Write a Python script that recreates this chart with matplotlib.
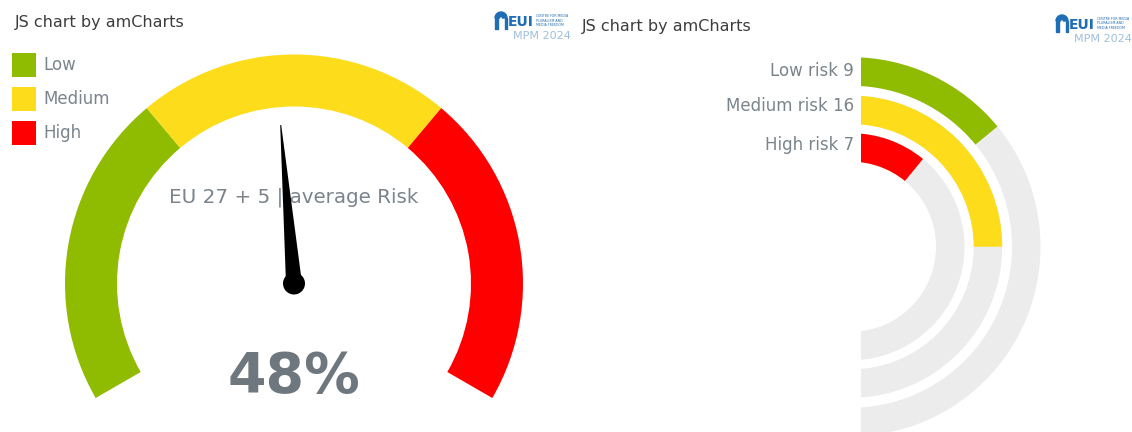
import matplotlib
matplotlib.use("Agg")
import matplotlib.pyplot as plt
from matplotlib.patches import Wedge, Rectangle, Polygon, Circle
import numpy as np

# ---------------- data ----------------
gauge_categories = ["Low", "Medium", "High"]
gauge_band_start = [0, 33.33, 66.67]
gauge_band_end = [33.33, 66.67, 100]
gauge_value = 48
gauge_label = "EU 27 + 5 | average Risk"

risk_categories = ["Low risk", "Medium risk", "High risk"]
risk_counts = [9, 16, 7]

colors = ["#8fbb00", "#fcdc1b", "#ff0000"]
track_color = "#ececec"
text_gray = "#7b848c"
title_color = "#3d3d3d"

W, H = 1132, 432
fig = plt.figure(figsize=(W / 100, H / 100), dpi=100)
ax = fig.add_axes([0, 0, 1, 1])
ax.set_xlim(0, W)
ax.set_ylim(0, H)
ax.set_aspect("equal")
ax.axis("off")


def Y(y):
    # convert top-down pixel position to axis coordinate
    return H - y


# ---------------- titles ----------------
ax.text(15, Y(22), "JS chart by amCharts", fontsize=11.5, color=title_color,
        va="center", ha="left")
ax.text(582, Y(27), "JS chart by amCharts", fontsize=11.5, color=title_color,
        va="center", ha="left")


# ---------------- logos ----------------
def logo(x, y):
    blue = "#1f6db5"
    light = "#9ebedd"
    # arch
    ax.add_patch(Wedge((x + 6, Y(y + 6)), 6, 0, 180, width=4.5, color=blue))
    ax.add_patch(Rectangle((x, Y(y + 17)), 2.5, 11, color=blue))
    ax.add_patch(Rectangle((x + 9.5, Y(y + 17)), 2.5, 11, color=blue))
    ax.text(x + 12.5, Y(y + 10), "EUI", fontsize=10, fontweight="bold",
            color=blue, va="center", ha="left")
    for i, t in enumerate(["CENTRE FOR MEDIA", "PLURALISM AND", "MEDIA FREEDOM"]):
        ax.text(x + 41, Y(y + 4 + i * 4.5), t, fontsize=2.3, color=blue,
                va="center", ha="left")
    ax.text(x + 18, Y(y + 24), "MPM 2024", fontsize=8, color=light,
            va="center", ha="left")


logo(495, 12)
logo(1056, 15)

# ---------------- gauge ----------------
gcx, gcy = 294, Y(283.5)
R_out, R_in = 229, 177
a_start, a_span = 210, 240


def val2ang(v):
    return a_start - v / 100 * a_span


for s, e, c in zip(gauge_band_start, gauge_band_end, colors):
    ax.add_patch(Wedge((gcx, gcy), R_out, val2ang(e), val2ang(s),
                       width=R_out - R_in, facecolor=c, edgecolor="none"))

# legend
for i, (name, c) in enumerate(zip(gauge_categories, colors)):
    top = 53 + i * 34
    ax.add_patch(Rectangle((12, Y(top + 24)), 24, 24, facecolor=c,
                           edgecolor="none"))
    ax.text(43, Y(top + 12), name, fontsize=12, color=text_gray,
            va="center", ha="left")

ax.text(gcx, Y(197), gauge_label, fontsize=14.3, color=text_gray,
        va="center", ha="center", zorder=3)

# needle
ang = np.deg2rad(val2ang(gauge_value))
tip_r, base_w, tip_w = 159, 16, 1
d = np.array([np.cos(ang), np.sin(ang)])
n = np.array([-d[1], d[0]])
c0 = np.array([gcx, gcy])
tip = c0 + d * tip_r
poly = [c0 + n * base_w / 2, tip + n * tip_w / 2, tip - n * tip_w / 2,
        c0 - n * base_w / 2]
ax.add_patch(Polygon(poly, closed=True, facecolor="black", edgecolor="none",
                     zorder=4))
ax.add_patch(Circle((gcx, gcy), 11, facecolor="black", edgecolor="none",
                    zorder=5))

ax.text(gcx, Y(377), f"{gauge_value}%", fontsize=40, fontweight="bold",
        color="#6f777e", va="center", ha="center")

# ---------------- radial bars ----------------
rcx, rcy = 851, Y(246.7)
band_w = 28.5
outer_radii = [189.5, 151.2, 113.5]
label_y = [71, 106, 145]
axis_max = sum(risk_counts)

for name, v, c, ro, ly in zip(risk_categories, risk_counts, colors,
                              outer_radii, label_y):
    tr = Wedge((rcx, rcy), ro, -90, 90, width=band_w, facecolor=track_color,
               edgecolor="none", zorder=1)
    ax.add_patch(tr)
    tr.set_clip_path(Rectangle((861, 0), 400, H, transform=ax.transData))
    bar = Wedge((rcx, rcy), ro, 90 - v / axis_max * 180, 90, width=band_w,
                facecolor=c, edgecolor="none", zorder=2)
    ax.add_patch(bar)
    bar.set_clip_path(Rectangle((861, 0), 400, H, transform=ax.transData))
    ax.text(854, Y(ly), f"{name} {v}", fontsize=12,
            color=text_gray, va="center", ha="right")

fig.savefig("out.png", dpi=100)
